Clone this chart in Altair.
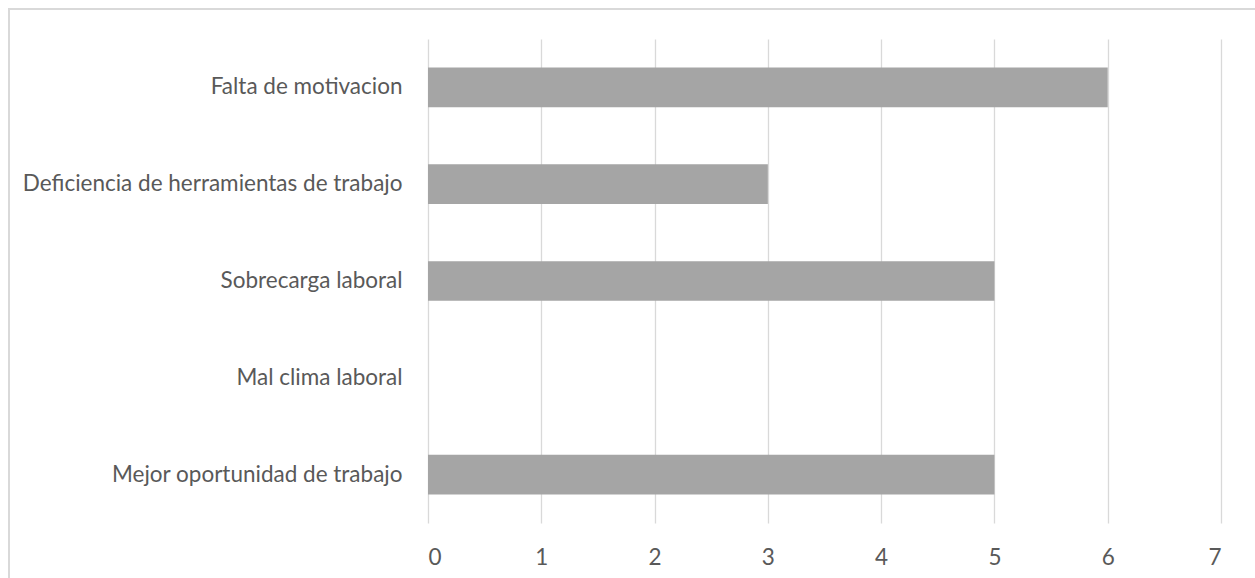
import altair as alt
import pandas as pd

# Motivos de renuncia: número de respuestas por categoría
categorias = [
    "Falta de motivacion",
    "Deficiencia de herramientas de trabajo",
    "Sobrecarga laboral",
    "Mal clima laboral",
    "Mejor oportunidad de trabajo",
]
respuestas = [6, 3, 5, 0, 5]
ticks_x = [0, 1, 2, 3, 4, 5, 6, 7]

df = pd.DataFrame({"categoria": categorias, "valor": respuestas})

FONT = "Lato"
TEXT = "#595959"
GRID = "#d9d9d9"

bars = alt.Chart(df).mark_bar(color="#a5a5a5").encode(
    x=alt.X(
        "valor:Q",
        scale=alt.Scale(domain=[0, 7], nice=False),
        axis=alt.Axis(
            values=ticks_x,
            title=None,
            grid=True,
            gridColor=GRID,
            gridWidth=1.3,
            domain=False,
            ticks=False,
            labelPadding=23,
            labelFontSize=22.5,
            labelColor=TEXT,
            labelFont=FONT,
        ),
    ),
    y=alt.Y(
        "categoria:N",
        sort=categorias,
        scale=alt.Scale(paddingInner=0.59, paddingOuter=0.295),
        axis=alt.Axis(
            title=None,
            domain=False,
            ticks=False,
            grid=False,
            labelPadding=26,
            labelFontSize=22.5,
            labelColor=TEXT,
            labelFont=FONT,
            labelLimit=500,
        ),
    ),
)

# Marco exterior del gráfico
frame = alt.Chart(df).mark_rect(
    fill=None, stroke=GRID, strokeWidth=1.5, clip=False
).encode(
    x=alt.value(-419),
    x2=alt.value(840),
    y=alt.value(-30),
    y2=alt.value(560),
)

chart = alt.layer(frame, bars).properties(
    width=793,
    height=484,
    padding={"left": 428, "top": 39, "right": 34, "bottom": 55},
    autosize=alt.AutoSizeParams(type="none"),
    background="white",
).configure_view(stroke=None)

chart.save("out.html", embed_options={"renderer": "svg", "actions": False})
